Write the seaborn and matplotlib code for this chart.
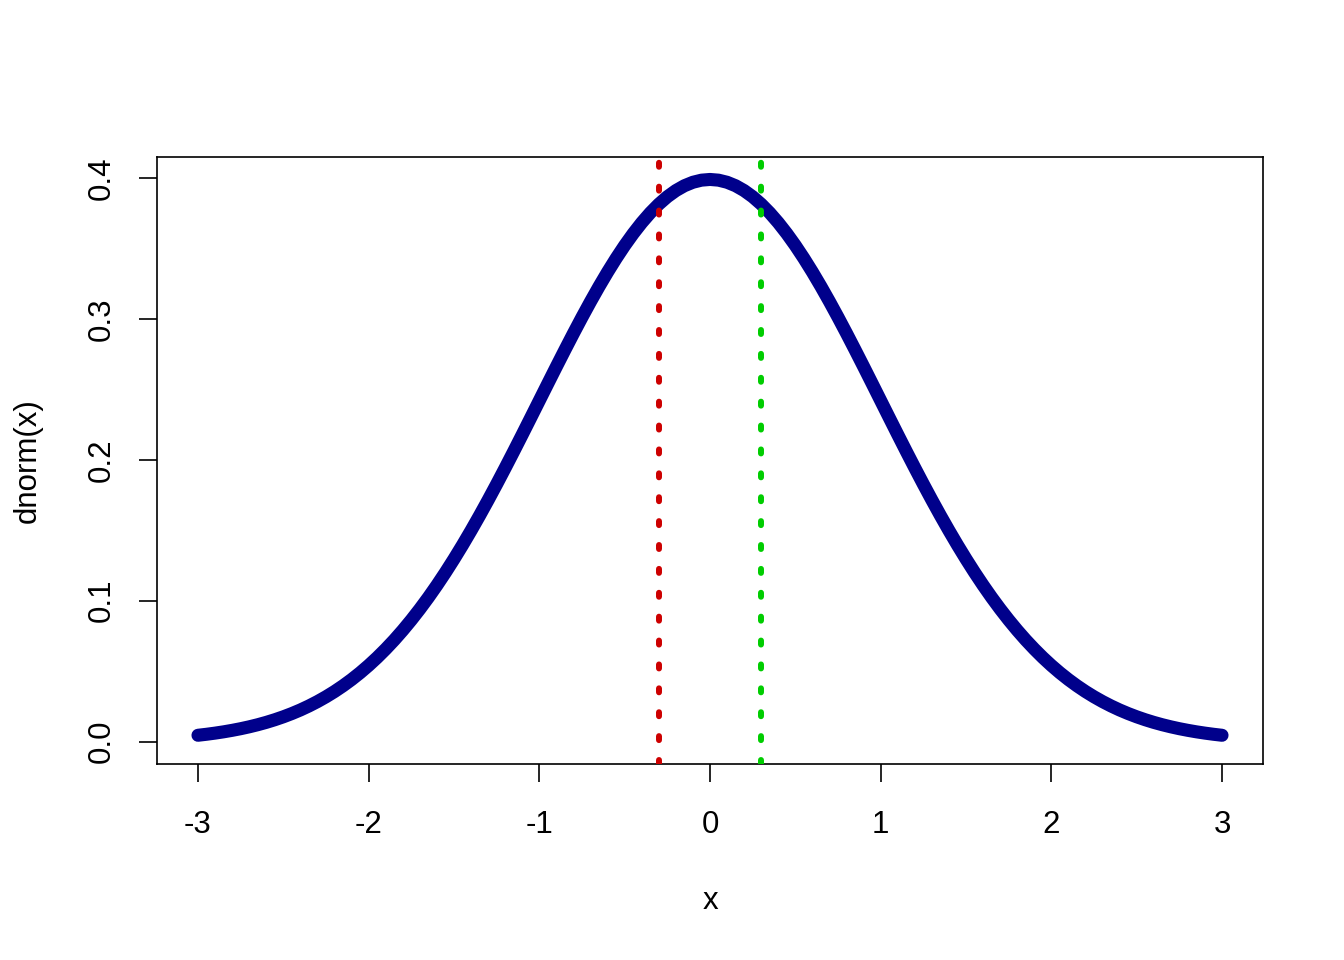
import matplotlib
matplotlib.use("Agg")
import matplotlib.pyplot as plt
import seaborn as sns
import pandas as pd

# x grid and density values (standard normal density curve)
x_values = [-3.0, -2.95, -2.9, -2.85, -2.8, -2.75, -2.7, -2.65, -2.6, -2.55,
            -2.5, -2.45, -2.4, -2.35, -2.3, -2.25, -2.2, -2.15, -2.1, -2.05,
            -2.0, -1.95, -1.9, -1.85, -1.8, -1.75, -1.7, -1.65, -1.6, -1.55,
            -1.5, -1.45, -1.4, -1.35, -1.3, -1.25, -1.2, -1.15, -1.1, -1.05,
            -1.0, -0.95, -0.9, -0.85, -0.8, -0.75, -0.7, -0.65, -0.6, -0.55,
            -0.5, -0.45, -0.4, -0.35, -0.3, -0.25, -0.2, -0.15, -0.1, -0.05,
            0.0,
            0.05, 0.1, 0.15, 0.2, 0.25, 0.3, 0.35, 0.4, 0.45, 0.5,
            0.55, 0.6, 0.65, 0.7, 0.75, 0.8, 0.85, 0.9, 0.95, 1.0,
            1.05, 1.1, 1.15, 1.2, 1.25, 1.3, 1.35, 1.4, 1.45, 1.5,
            1.55, 1.6, 1.65, 1.7, 1.75, 1.8, 1.85, 1.9, 1.95, 2.0,
            2.05, 2.1, 2.15, 2.2, 2.25, 2.3, 2.35, 2.4, 2.45, 2.5,
            2.55, 2.6, 2.65, 2.7, 2.75, 2.8, 2.85, 2.9, 2.95, 3.0]
density_values = [0.00443, 0.00514, 0.00595, 0.00687, 0.00792, 0.00909, 0.01042, 0.01191, 0.01358, 0.01545,
                  0.01753, 0.01984, 0.02239, 0.02522, 0.02833, 0.03174, 0.03547, 0.03955, 0.04398, 0.04879,
                  0.05399, 0.05959, 0.06562, 0.07206, 0.07895, 0.08628, 0.09405, 0.10226, 0.11092, 0.12001,
                  0.12952, 0.13943, 0.14973, 0.16038, 0.17137, 0.18265, 0.19419, 0.20594, 0.21785, 0.22988,
                  0.24197, 0.25406, 0.26609, 0.27798, 0.28969, 0.30114, 0.31225, 0.32297, 0.33322, 0.34294,
                  0.35207, 0.36053, 0.36827, 0.37524, 0.38139, 0.38667, 0.39104, 0.39448, 0.39695, 0.39844,
                  0.39894,
                  0.39844, 0.39695, 0.39448, 0.39104, 0.38667, 0.38139, 0.37524, 0.36827, 0.36053, 0.35207,
                  0.34294, 0.33322, 0.32297, 0.31225, 0.30114, 0.28969, 0.27798, 0.26609, 0.25406, 0.24197,
                  0.22988, 0.21785, 0.20594, 0.19419, 0.18265, 0.17137, 0.16038, 0.14973, 0.13943, 0.12952,
                  0.12001, 0.11092, 0.10226, 0.09405, 0.08628, 0.07895, 0.07206, 0.06562, 0.05959, 0.05399,
                  0.04879, 0.04398, 0.03955, 0.03547, 0.03174, 0.02833, 0.02522, 0.02239, 0.01984, 0.01753,
                  0.01545, 0.01358, 0.01191, 0.01042, 0.00909, 0.00792, 0.00687, 0.00595, 0.00514, 0.00443]
vline_positions = [-0.3, 0.3]
vline_colors = ["#CD0000", "#00CD00"]
x_ticks = [-3, -2, -1, 0, 1, 2, 3]
y_ticks = [0.0, 0.1, 0.2, 0.3, 0.4]

sns.set_theme(style="ticks")
plt.rcParams["font.family"] = ["Liberation Sans", "DejaVu Sans"]

df = pd.DataFrame({"x": x_values, "y": density_values})

fig = plt.figure(figsize=(13.44, 9.6), dpi=100)
fig.patch.set_facecolor("white")
ax = fig.add_axes([157 / 1344, 1 - 764 / 960, (1263 - 157) / 1344, (764 - 157) / 960])
ax.set_facecolor("white")

sns.lineplot(data=df, x="x", y="y", ax=ax, color="#00008B", linewidth=9.4,
             solid_capstyle="round", solid_joinstyle="round", zorder=2)

for pos, col in zip(vline_positions, vline_colors):
    ax.axvline(pos, color=col, linewidth=4.3, linestyle=(0, (0.67, 3.33)),
               dash_capstyle="round", zorder=3)

ax.set_xlim(-3.24, 3.24)
ax.set_ylim(-0.01596, 0.41488)
ax.set_xticks(x_ticks)
ax.set_xticklabels([str(t) for t in x_ticks])
ax.set_yticks(y_ticks)
ax.set_yticklabels([f"{t:.1f}" for t in y_ticks], rotation=90, va="center")

for s in ax.spines.values():
    s.set_visible(True)
    s.set_color("black")
    s.set_linewidth(1.2)

ax.tick_params(axis="x", direction="out", length=13, width=1.2, color="black",
               labelsize=22.5, labelcolor="black", pad=20)
ax.tick_params(axis="y", direction="out", length=13, width=1.2, color="black",
               labelsize=22.5, labelcolor="black", pad=16)
ax.grid(False)

ax.set_xlabel("x", fontsize=22.5, color="black", labelpad=33)
ax.set_ylabel("dnorm(x)", fontsize=22.5, color="black", labelpad=32)

fig.savefig("out.png", dpi=100, facecolor="white")
